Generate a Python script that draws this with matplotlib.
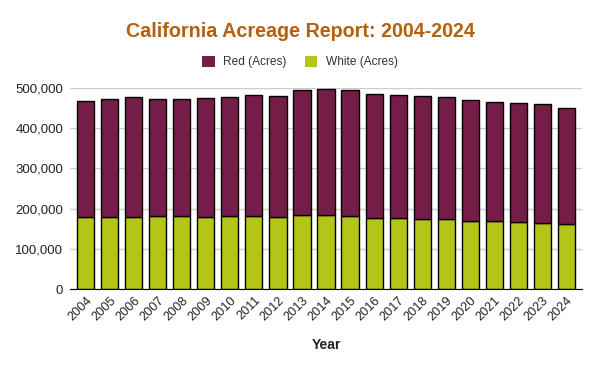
import matplotlib
matplotlib.use("Agg")
import matplotlib.pyplot as plt
import numpy as np
from matplotlib.ticker import FuncFormatter

plt.rcParams["font.family"] = ["Liberation Sans", "DejaVu Sans"]

years = [str(y) for y in range(2004, 2025)]
white_acres = [179000, 179000, 179000, 181500, 181500, 179000, 181500, 181500, 179000, 184000,
               184000, 181500, 176500, 176500, 174000, 174000, 169000, 169000, 166500, 164000,
               161500]
total_acres = [466500, 472500, 477500, 472500, 472500, 475000, 477500, 482500, 480000, 495000,
               497500, 495000, 485000, 482500, 480000, 477500, 470000, 465000, 462500, 460000,
               450000]
red_acres = [t - w for t, w in zip(total_acres, white_acres)]

red_color = "#751C48"
white_color = "#B5C418"
title_color = "#B5600F"

fig = plt.figure(figsize=(6, 3.71), dpi=100)
ax = fig.add_axes([0.1167, 0.221, 0.8533, 0.5418])

x = np.arange(len(years))
ax.bar(x, white_acres, width=0.71, color=white_color, edgecolor="black", linewidth=1,
       label="White (Acres)", zorder=3)
ax.bar(x, red_acres, width=0.71, bottom=white_acres, color=red_color, edgecolor="black",
       linewidth=1, label="Red (Acres)", zorder=3)

ax.set_xlim(-0.66, len(years) - 0.34)
ax.set_ylim(0, 500000)
ax.set_yticks(range(0, 500001, 100000))
ax.yaxis.set_major_formatter(FuncFormatter(lambda v, p: f"{int(v):,}"))
ax.grid(axis="y", color="#cccccc", linewidth=1, zorder=0)
for s in ["top", "right", "left"]:
    ax.spines[s].set_visible(False)
ax.spines["bottom"].set_color("black")
ax.spines["bottom"].set_zorder(4)
ax.tick_params(axis="y", length=0, pad=5, labelsize=9.5, labelcolor="#222222")
ax.tick_params(axis="x", length=0, pad=4, labelsize=9.2, labelcolor="#222222")
ax.set_xticks(x)
ax.set_xticklabels(years, rotation=45, ha="right", rotation_mode="anchor")

ax.set_xlabel("Year", fontsize=10, fontweight="bold", color="#222222", labelpad=11)

fig.text(0.5, 0.915, "California Acreage Report: 2004-2024", ha="center", va="center",
         fontsize=14.2, fontweight="bold", color=title_color)

handles, labels = ax.get_legend_handles_labels()
fig.legend(handles[::-1], labels[::-1], loc="center", bbox_to_anchor=(0.5, 0.833), ncol=2,
           frameon=False, fontsize=8.6, handlelength=1.05, handleheight=1.05,
           columnspacing=1.5, handletextpad=0.7, labelcolor="#333333")
for h in fig.legends[0].legend_handles:
    h.set_edgecolor("none")

fig.savefig("out.png", dpi=100)
